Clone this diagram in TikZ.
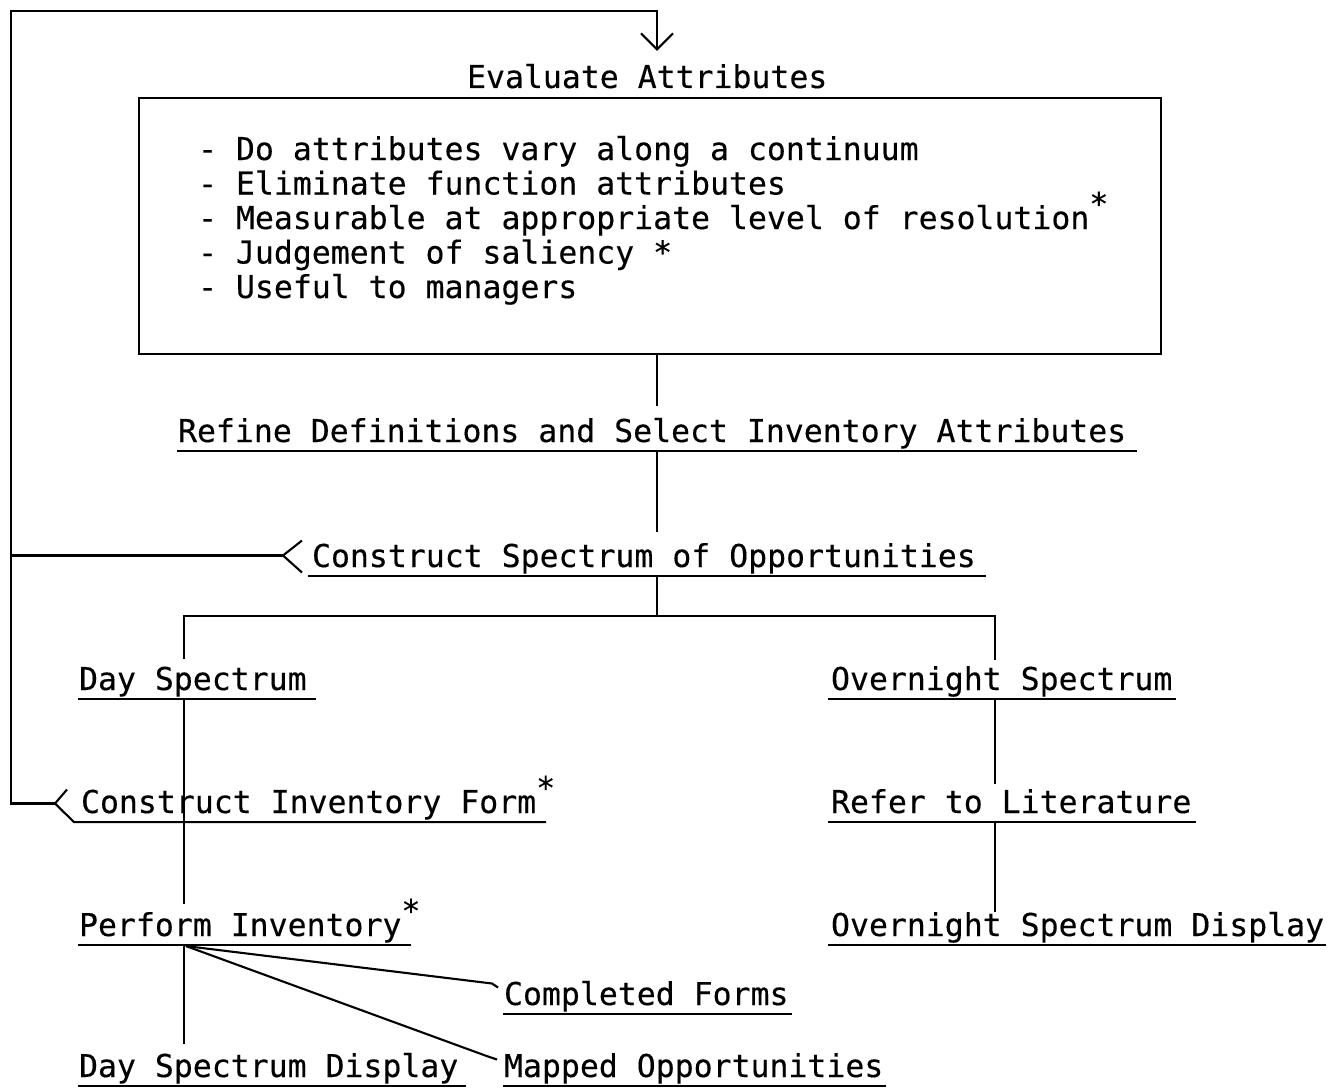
\documentclass[tikz,border=0pt]{standalone}
\usepackage{fontspec}
\setmainfont[FakeBold=0.3,AutoFakeBold=0.3]{DejaVu Sans Mono}
\usetikzlibrary{arrows.meta,calc}
\newcommand\sstar{\raisebox{14pt}{*}}
\newcommand\undl[3]{\draw ($(#1.south west)+(#2,0)$) -- ($(#1.south east)+(#3,0)$);}
\begin{document}
\frenchspacing
\begin{tikzpicture}[x=1pt,y=-1pt,line width=2.1pt,
  lbl/.style={inner sep=0pt, anchor=base west, text height=23pt, text depth=8pt,
    font=\fontsize{31.5pt}{34pt}\selectfont\bfseries},
  barb/.style={-{Straight Barb[length=16pt,width=32pt,line width=2.1pt]}},
]
\useasboundingbox (0,0) rectangle (1340,1089);

% guide coordinates for the main spine, the two columns and the feedback rail
\coordinate (spine) at (657,0);
\coordinate (dayx) at (184,0);
\coordinate (nightx) at (995,0);
\coordinate (rail) at (11,0);
\coordinate (top) at (11,11);
\coordinate (fork) at (657,616);

% heading and criteria box
\node[lbl] (eval) at (466,88) {Evaluate Attributes};
\node[draw, inner sep=0pt, minimum width=1022pt, minimum height=256pt,
      anchor=north west] (box) at (138,97) {};
\node[lbl] (b1) at (197,160)   {- Do attributes vary along a continuum};
\node[lbl] (b2) at (197,194.5) {- Eliminate function attributes};
\node[lbl] (b3) at (197,229)   {- Measurable at appropriate level of resolution\sstar};
\node[lbl] (b4) at (197,263.5) {- Judgement of saliency *};
\node[lbl] (b5) at (197,298)   {- Useful to managers};

% steps
\node[lbl] (refine) at (177,442) {Refine Definitions and Select Inventory Attributes};
\node[lbl] (cs)     at (311,567) {Construct Spectrum of Opportunities};
\node[lbl] (day)    at (78,690)  {Day Spectrum};
\node[lbl] (on)     at (830,690) {Overnight Spectrum};
\node[lbl] (ciform) at (80,813)  {Construct Inventory Form\sstar};
\node[lbl] (refer)  at (830,813) {Refer to Literature};
\node[lbl] (perf)   at (78,936)  {Perform Inventory\sstar};
\node[lbl] (ond)    at (830,936) {Overnight Spectrum Display};
\node[lbl] (cf)     at (503,1005) {Completed Forms};
\node[lbl] (dsd)    at (78,1077) {Day Spectrum Display};
\node[lbl] (mo)     at (503,1077) {Mapped Opportunities};

% underlines
\undl{refine}{0}{10}
\undl{cs}{-3}{9}
\undl{day}{0}{8}
\undl{on}{-2}{3}
\undl{refer}{-2}{4}
\undl{perf}{0}{-10}
\undl{ond}{-2}{1}
\undl{cf}{0}{2}
\undl{dsd}{0}{7}
\undl{mo}{0}{2}

% main spine
\draw[shorten >=12pt] (spine |- box.south) -- (spine |- refine.north);
\draw[shorten >=11pt] (spine |- refine.south) -- (spine |- cs.north);
\draw (spine |- cs.south) -- (fork);
\draw[shorten <=7pt, shorten >=6pt] (dayx |- day.north) |- (fork) -| (nightx |- on.north);

% overnight column
\draw[shorten >=5pt] (nightx |- on.south) -- (nightx |- refer.north);
\draw (nightx |- refer.south) -- (nightx |- ond.north);

% day column
\draw[shorten >=8pt] (dayx |- day.south) -- (dayx |- perf.north);
\draw[shorten >=9pt] (dayx |- perf.south) -- (dayx |- dsd.north);
\coordinate (fanroot) at ($(dayx |- perf.south)+(2,1)$);
\draw (fanroot) -- ($(cf.west)+(-11,-14)$) -- ($(cf.west)+(-5,-10)$);
\draw (fanroot) -- ($(mo.west)+(-15,-13)$) -- ($(mo.west)+(-6,-10)$);

% feedback: Construct Spectrum of Opportunities back to the rail
\coordinate (csapex) at ($(cs.west)+(-28,-4)$);
\draw (rail |- csapex) -- (csapex);
\draw ($(csapex)+(19,-15)$) -- (csapex) -- ($(csapex)+(19,17)$);

% feedback loop: Construct Inventory Form up to Evaluate Attributes
\coordinate (ciapex) at ($(ciform.west)+(-25,-2)$);
\draw[barb, shorten >=13pt] (ciapex) -- (rail |- ciapex) -- (top) -| (spine |- eval.north);
\draw ($(ciapex)+(12,-14)$) -- (ciapex) -- ($(ciform.south west)+(-6,0)$)
      -- ($(ciform.south east)+(-10,0)$);
\end{tikzpicture}
\end{document}
